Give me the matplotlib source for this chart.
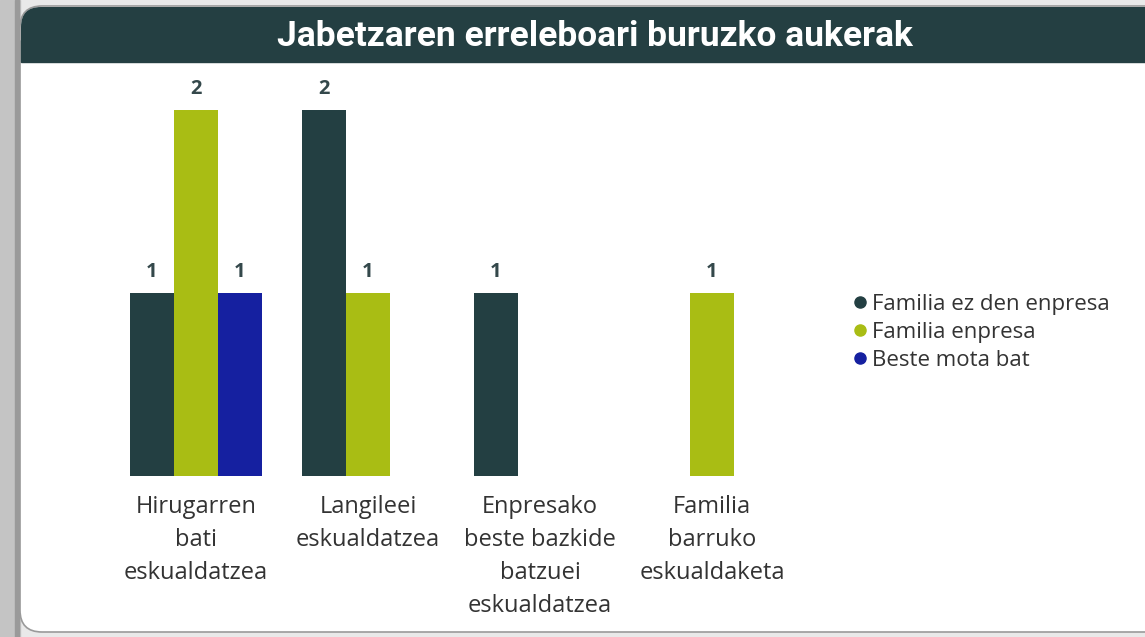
import matplotlib.pyplot as plt
import numpy as np
from matplotlib.patches import FancyBboxPatch, Rectangle
from matplotlib.lines import Line2D

# data
categories = ['Hirugarren\nbati\neskualdatzea', 'Langileei\neskualdatzea',
              'Enpresako\nbeste bazkide\nbatzuei\neskualdatzea', 'Familia\nbarruko\neskualdaketa']
series = ['Familia ez den enpresa', 'Familia enpresa', 'Beste mota bat']
familia_ez = [1, 2, 1, None]
familia = [2, 1, None, 1]
beste_mota = [1, None, None, None]
colors = ['#233F42', '#A9BD14', '#1520A0']
title = 'Jabetzaren erreleboari buruzko aukerak'

W, H = 1145, 637
fig = plt.figure(figsize=(W / 100, H / 100), dpi=100)
fig.patch.set_facecolor('#e9e9e9')

# background card (pixel coords)
bg = fig.add_axes([0, 0, 1, 1])
bg.set_xlim(0, W)
bg.set_ylim(H, 0)
bg.axis('off')
bg.add_patch(Rectangle((0, 0), 20, H, color='#c4c4c4', zorder=0))
bg.add_patch(Rectangle((15, 0), 4, H, color='#9a9a9a', zorder=0))
bg.add_patch(FancyBboxPatch((20, 6), W + 40, 626, boxstyle='round,pad=0,rounding_size=22',
                            facecolor='white', edgecolor='#9a9a9a', lw=1.2, zorder=1))
bg.add_patch(FancyBboxPatch((21, 7), W + 40, 55, boxstyle='round,pad=0,rounding_size=20',
                            facecolor='#243F42', edgecolor='none', zorder=2))
bg.add_patch(Rectangle((21, 40), W, 22, color='#243F42', zorder=2))
bg.text(595, 36, title, color='white', fontsize=25.5, fontweight='bold',
        family=['Roboto', 'DejaVu Sans'], ha='center', va='center', zorder=3)

# chart axes: x unit = 172 px, y unit = 183 px
left_px, right_px, top_px, base_px = 100, 800, 80, 476
ax = fig.add_axes([left_px / W, (H - base_px) / H, (right_px - left_px) / W, (base_px - top_px) / H])
ax.set_xlim((left_px - 196) / 172, (right_px - 196) / 172)
ax.set_ylim(0, (base_px - top_px) / 183)
ax.patch.set_alpha(0)
for s in ax.spines.values():
    s.set_visible(False)
ax.set_yticks([])

x = np.arange(len(categories))
w = 44 / 172
for i, (vals, c) in enumerate(zip([familia_ez, familia, beste_mota], colors)):
    xs = [xi + (i - 1) * w for xi, v in zip(x, vals) if v is not None]
    ys = [v for v in vals if v is not None]
    bars = ax.bar(xs, ys, width=w, color=c)
    ax.bar_label(bars, padding=8, fontsize=14.5, fontweight='bold', color='#34484b',
                 family=['Open Sans', 'DejaVu Sans'])

ax.set_xticks(x)
ax.set_xticklabels(categories, fontsize=17, color='#333333', family=['Open Sans', 'DejaVu Sans'],
                   linespacing=1.5)
ax.tick_params(axis='x', length=0, pad=14)

handles = [Line2D([], [], marker='o', ls='', color=c, markersize=8) for c in colors]
fig.legend(handles, series, loc='upper left', bbox_to_anchor=(832 / W, 1 - 274 / H),
           frameon=False, handletextpad=0.2, handlelength=0.7, labelspacing=0.32,
           prop={'family': ['Open Sans', 'DejaVu Sans'], 'size': 16}, labelcolor='#333333')

fig.savefig('out.png', dpi=100)
